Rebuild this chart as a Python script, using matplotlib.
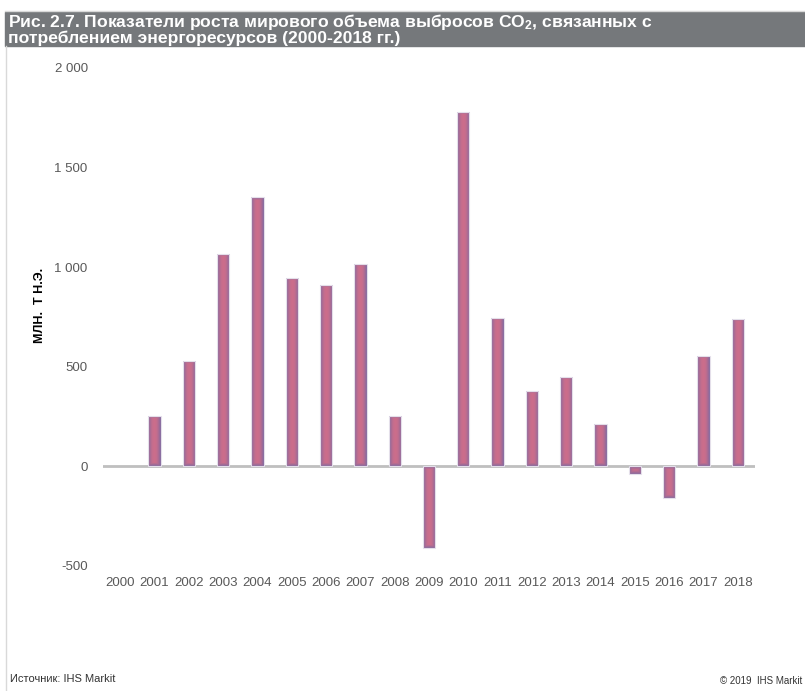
import numpy as np
import matplotlib
matplotlib.use("Agg")
import matplotlib.pyplot as plt
from matplotlib import font_manager
from matplotlib.colors import to_rgb

# Annual growth of world energy-related CO2 emissions, mln t o.e.
years = [str(y) for y in range(2000, 2019)]
growth = [np.nan, 255, 530, 1065, 1350, 945, 910, 1015, 255, -410,
          1780, 745, 380, 450, 215, -40, -160, 555, 740]
yticks = [-500, 0, 500, 1000, 1500, 2000]
ytick_labels = ["-500", "0", "500", "1 000", "1 500", "2 000"]

title_text = ("Рис. 2.7. Показатели роста мирового объема выбросов CO$_2$, связанных с\n"
              "потреблением энергоресурсов (2000-2018 гг.)")
ylabel_text = "МЛН.  Т Н.Э."
source_text = "Источник: IHS Markit"
copyright_text = "© 2019  IHS Markit"

installed = {f.name for f in font_manager.fontManager.ttflist}
narrow = "Liberation Sans Narrow" in installed
title_family = "Liberation Sans Narrow" if narrow else "Liberation Sans"
title_size = 13.5 if narrow else 12.6

plt.rcParams["font.family"] = ["Liberation Sans", "DejaVu Sans"]
plt.rcParams["mathtext.fontset"] = "custom"
plt.rcParams["mathtext.rm"] = title_family + ":bold"
plt.rcParams["mathtext.it"] = title_family + ":bold"
plt.rcParams["mathtext.bf"] = title_family + ":bold"

W, H = 805, 691
fig = plt.figure(figsize=(W / 100, H / 100), dpi=100)

# header band and frame lines
fig.patches.append(plt.Rectangle((5 / W, 1 - 46 / H), 1, 34 / H,
                                 transform=fig.transFigure, color="#75787b", zorder=0))
fig.lines.append(plt.Line2D([5 / W, 1], [1 - 11 / H, 1 - 11 / H],
                            transform=fig.transFigure, color="#d9d9d9", lw=1))
fig.lines.append(plt.Line2D([6 / W, 6 / W], [0, 1 - 46 / H],
                            transform=fig.transFigure, color="#d9d9d9", lw=1))

fig.text(8 / W, 1 - 12 / H, title_text, color="white", fontsize=title_size, fontweight="bold",
         family=[title_family, "DejaVu Sans"], va="top", ha="left", linespacing=0.88)

ax = fig.add_axes([103 / W, 125 / H, 652 / W, 498 / H])
x = np.arange(len(years))
bw = 0.36
bars = ax.bar(x, growth, width=bw, color="none", edgecolor="#e4dfea", linewidth=0.8, zorder=3)

center = np.array(to_rgb("#cc6e8b"))
edge = np.array(to_rgb("#80699f"))
px_per_unit = 498 / 2500
for rect, v in zip(bars.patches, growth):
    if np.isnan(v) or v == 0:
        continue
    hpx = max(int(abs(v) * px_per_unit), 4)
    cols = 24
    u = np.abs(np.linspace(-1, 1, cols))
    fx = u ** 2.0
    rows_idx = np.arange(hpx)
    dist = np.minimum(rows_idx, hpx - 1 - rows_idx)
    fy = np.clip(1 - dist / 3.0, 0, 1) * 0.8
    f = np.maximum(fx[None, :], fy[:, None])
    img = center[None, None, :] * (1 - f[..., None]) + edge[None, None, :] * f[..., None]
    x0 = rect.get_x()
    y0 = rect.get_y()
    h = rect.get_height()
    im = ax.imshow(img, extent=(x0, x0 + rect.get_width(), min(y0, y0 + h), max(y0, y0 + h)),
                   aspect="auto", origin="lower", zorder=2, interpolation="bilinear")
    im.set_clip_path(rect)

ax.axhline(0, color="#bfbfbf", lw=2, zorder=1)
ax.set_xlim(-0.5, len(years) - 0.5)
ax.set_ylim(-500, 2000)
for s in ax.spines.values():
    s.set_visible(False)
ax.set_xticks(x)
ax.set_xticklabels(years)
ax.set_yticks(yticks)
ax.set_yticklabels(ytick_labels)
ax.tick_params(axis="x", length=0, pad=8, labelsize=9.5, labelcolor="#595959")
ax.tick_params(axis="y", length=0, pad=11, labelsize=9.5, labelcolor="#595959")

fig.text(40 / W, 1 - 305 / H, ylabel_text, rotation=90, fontsize=9, fontweight="bold",
         color="black", ha="center", va="center")

fig.text(10 / W, 1 - 679 / H, source_text, fontsize=8, color="#333333", ha="left", va="center")
fig.text(802 / W, 1 - 681 / H, copyright_text, fontsize=7, color="#333333", ha="right", va="center")

fig.savefig("out.png", dpi=100)
